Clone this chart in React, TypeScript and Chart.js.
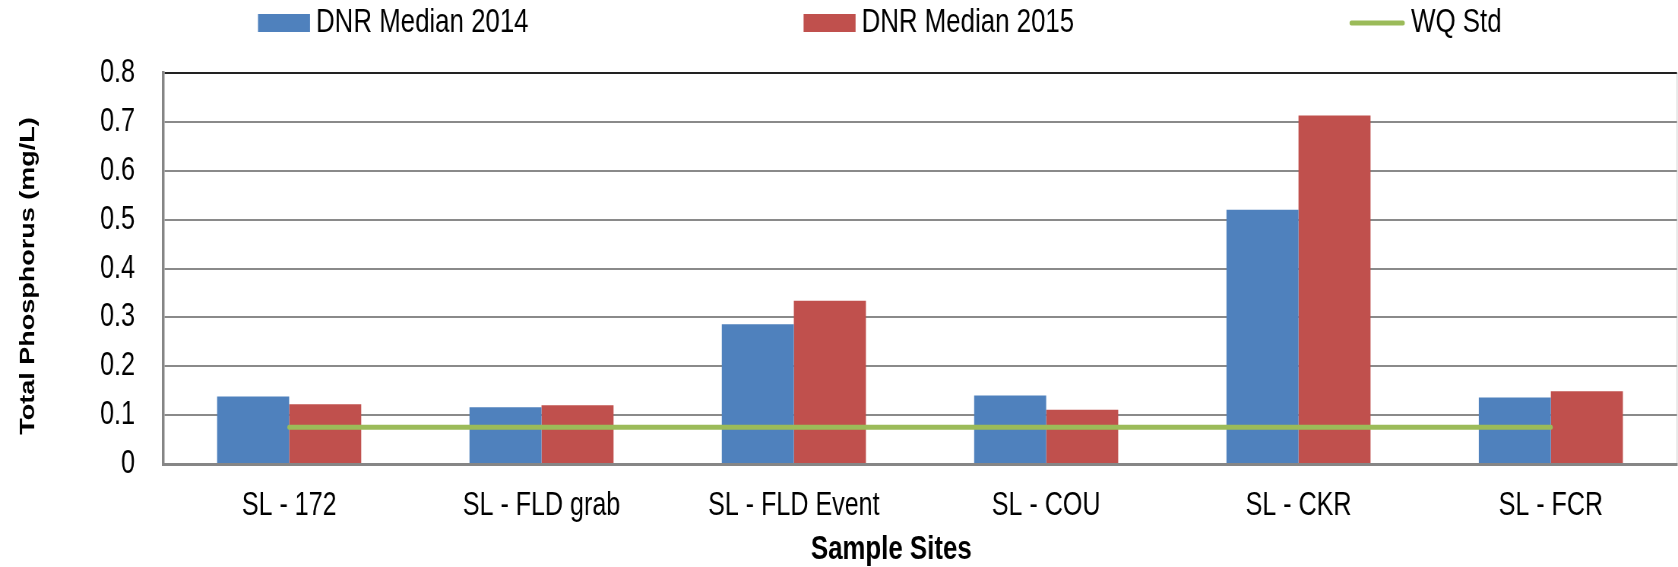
import React, { useEffect, useRef } from 'react';
import { Chart, registerables } from 'chart.js';

Chart.register(...registerables);

const sites = ['SL - 172', 'SL - FLD grab', 'SL - FLD Event', 'SL - COU', 'SL - CKR', 'SL - FCR'];
const median2014 = [0.138, 0.116, 0.286, 0.14, 0.52, 0.136];
const median2015 = [0.122, 0.12, 0.334, 0.111, 0.713, 0.149];
const wqStd = [0.075, 0.075, 0.075, 0.075, 0.075, 0.075];
const yTickLabels = ['0', '0.1', '0.2', '0.3', '0.4', '0.5', '0.6', '0.7', '0.8'];

const FONT = "'Liberation Sans Narrow', 'Arial Narrow', 'Liberation Sans', Arial, sans-serif";

// The reference uses a narrow typeface; the canvas is drawn wider and squeezed horizontally by CSS.
const PAGE_W = 1678;
const PAGE_H = 567;
const SQUEEZE = 0.76;
const CANVAS_W = Math.round(PAGE_W / SQUEEZE);
const K = PAGE_W / CANVAS_W;
const hx = (v: number) => v / K;

const legendPlugin = {
  id: 'customLegend',
  afterDraw(chart: any) {
    const o = chart.options.plugins.customLegend;
    const ctx = chart.ctx;
    ctx.save();
    ctx.font = `${o.fontSize}px ${FONT}`;
    ctx.textBaseline = 'middle';
    ctx.textAlign = 'left';
    let x = o.startX;
    chart.data.datasets.forEach((ds: any) => {
      if (ds.type === 'line') {
        ctx.strokeStyle = ds.borderColor;
        ctx.lineWidth = o.lineThickness;
        ctx.lineCap = 'round';
        ctx.beginPath();
        ctx.moveTo(x + 3, o.centerY);
        ctx.lineTo(x + o.lineMarkerWidth - 3, o.centerY);
        ctx.stroke();
        x += o.lineMarkerWidth;
      } else {
        ctx.fillStyle = ds.backgroundColor;
        ctx.fillRect(x, o.centerY - o.boxHeight / 2, o.boxWidth, o.boxHeight);
        x += o.boxWidth;
      }
      x += o.textGap;
      ctx.fillStyle = '#000';
      ctx.fillText(ds.label, x, o.centerY);
      x += ctx.measureText(ds.label).width + o.itemGap;
    });
    ctx.restore();
  },
};

export default function App() {
  const ref = useRef<HTMLCanvasElement | null>(null);

  useEffect(() => {
    if (!ref.current) return;
    Chart.defaults.color = '#000';
    const chart = new Chart(ref.current, {
      type: 'bar',
      data: {
        labels: sites,
        datasets: [
          {
            label: 'DNR Median 2014',
            data: median2014,
            backgroundColor: '#4F81BD',
            order: 1,
          },
          {
            label: 'DNR Median 2015',
            data: median2015,
            backgroundColor: '#C0504D',
            order: 1,
          },
          {
            type: 'line' as any,
            label: 'WQ Std',
            data: wqStd,
            borderColor: '#9BBB59',
            backgroundColor: '#9BBB59',
            borderWidth: 5,
            borderCapStyle: 'round',
            pointRadius: 0,
            order: 0,
          },
        ] as any,
      },
      options: {
        animation: false,
        responsive: false,
        devicePixelRatio: 1,
        layout: { padding: { top: 73, right: hx(1), left: 0, bottom: 0 } },
        datasets: {
          bar: { categoryPercentage: 0.571, barPercentage: 1 },
        } as any,
        plugins: {
          legend: { display: false },
          tooltip: { enabled: false },
          customLegend: {
            fontSize: 34,
            startX: hx(258),
            centerY: 23,
            boxWidth: hx(52),
            boxHeight: 18,
            lineMarkerWidth: hx(56),
            lineThickness: 5,
            textGap: hx(6),
            itemGap: hx(275),
          },
        } as any,
        scales: {
          x: {
            afterFit: (s: any) => {
              s.height = 103;
            },
            grid: {
              drawTicks: false,
              color: (c: any) => (c.type === 'scale' ? '#d9d9d9' : 'rgba(0,0,0,0)'),
              lineWidth: 1.5,
            },
            border: { display: true, color: '#868686', width: 3 },
            ticks: {
              padding: 22,
              font: { family: FONT, size: 33 },
              color: '#000',
              maxRotation: 0,
              autoSkip: false,
            },
            title: {
              display: true,
              text: 'Sample Sites        ',
              font: { family: FONT, size: 34, weight: 'bold', lineHeight: 1 },
              color: '#000',
              padding: { top: 0, bottom: 0 },
            },
          },
          y: {
            min: 0,
            max: 0.8,
            afterFit: (s: any) => {
              s.width = hx(163);
            },
            grid: {
              drawTicks: false,
              color: (c: any) => (c.tick && Math.round(c.tick.value * 10) === 8 ? '#222222' : '#8a8a8a'),
              lineWidth: 2,
            },
            border: { display: true, color: '#868686', width: 3.5 },
            ticks: {
              stepSize: 0.1,
              padding: hx(28),
              font: { family: FONT, size: 33 },
              color: '#000',
              callback: (v: any) => yTickLabels[Math.round(Number(v) * 10)],
            },
            title: {
              display: true,
              text: 'Total Phosphorus (mg/L)  ',
              font: { family: FONT, size: 27, weight: 'bold' },
              color: '#000',
              padding: { top: hx(16), bottom: 0 },
            },
          },
        },
      },
      plugins: [legendPlugin],
    });
    return () => chart.destroy();
  }, []);

  return (
    <div style={{ position: 'absolute', left: 0, top: 0, width: PAGE_W, height: PAGE_H }}>
      <canvas
        ref={ref}
        width={CANVAS_W}
        height={PAGE_H}
        style={{ display: 'block', width: `${PAGE_W}px`, height: `${PAGE_H}px` }}
      />
    </div>
  );
}
